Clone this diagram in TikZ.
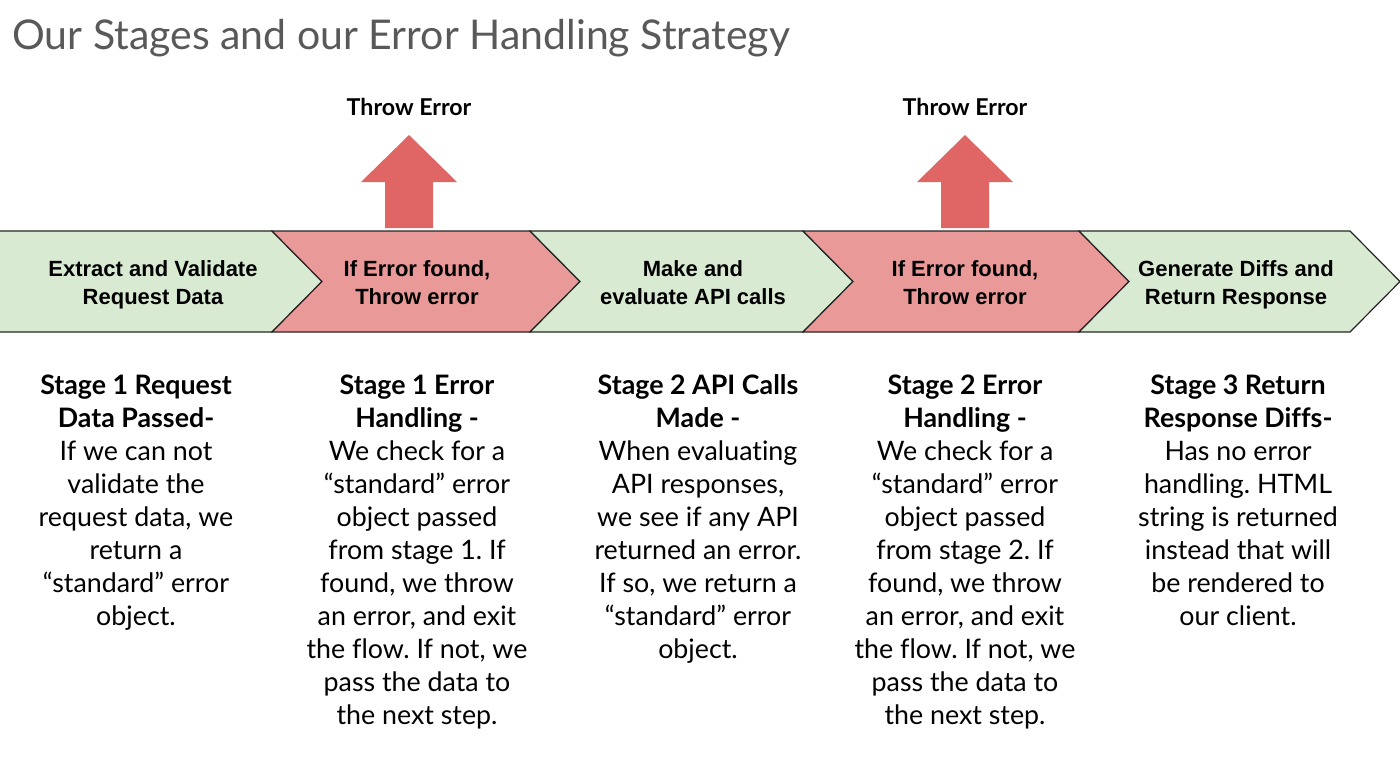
\documentclass[tikz,border=0pt]{standalone}
\usepackage{fontspec}
\setmainfont{Lato}[Ligatures=NoCommon]
\newfontfamily\chevfont{Liberation Sans}
\usetikzlibrary{positioning}
\frenchspacing

\definecolor{stageGreen}{HTML}{D9EAD3}
\definecolor{errorPink}{HTML}{EA9999}
\definecolor{throwRed}{HTML}{E06666}
\definecolor{titleGray}{HTML}{595959}

\tikzset{
  chevron/.style={draw=black!85,line width=0.6pt,line join=miter},
  chevlabel/.style={align=center,inner sep=0pt,
    font=\chevfont\bfseries\fontsize{11}{14}\selectfont},
  stagetext/.style={anchor=north,align=center,inner sep=0pt,
    font=\fontsize{13.4}{16.5}\selectfont},
  throwlabel/.style={inner sep=0pt,font=\bfseries\fontsize{11.6}{13}\selectfont},
}

\begin{document}
\begin{tikzpicture}[x=0.5pt,y=-0.5pt]
  \useasboundingbox (0,0) rectangle (1400,762);

  \node (title) [anchor=base west,inner sep=0pt,text=titleGray,
    font=\fontsize{20.5}{24}\selectfont] at (12,49)
    {Our Stages and our Error Handling Strategy};

  \filldraw[chevron,fill=stageGreen] (-2,231) -- (272,231) -- (322,281.5)
    -- (272,332) -- (-2,332) -- cycle;
  \foreach \l/\r/\c in {272/530/errorPink,530/803/stageGreen,
      803/1079/errorPink,1079/1350/stageGreen}
    \filldraw[chevron,fill=\c] (\l,231) -- (\r,231) -- ({\r+50},281.5)
      -- (\r,332) -- (\l,332) -- ({\l+50},281.5) -- cycle;

  \foreach \x/\n in {409/1,965/2} {
    \fill[throwRed] (\x,135) -- ({\x+48},182) -- ({\x+24},182) -- ({\x+24},228)
      -- ({\x-24},228) -- ({\x-24},182) -- ({\x-48},182) -- cycle;
    \node (throw\n) [throwlabel] at (\x,107) {Throw Error};
  }

  \node (c1) [chevlabel] at (153,285) {Extract and Validate\\Request Data};
  \node (c2) [chevlabel] at (417,283) {If Error found,\\Throw error};
  \node (c3) [chevlabel] at (693,283) {Make and\\evaluate API calls};
  \node (c4) [chevlabel] at (965,283) {If Error found,\\Throw error};
  \node (c5) [chevlabel] at (1236,285) {Generate Diffs and\\Return Response};

  \node (s1) [stagetext] at (136,374) {\textbf{Stage 1 Request}\\\textbf{Data Passed-}\\
    If we can not\\validate the\\request data, we\\return a\\``standard'' error\\object.};
  \node (s2) [stagetext] at (417,374) {\textbf{Stage 1 Error}\\\textbf{Handling -}\\
    We check for a\\``standard'' error\\object passed\\from stage 1. If\\found, we throw\\
    an error, and exit\\the flow. If not, we\\pass the data to\\the next step.};
  \node (s3) [stagetext] at (698,374) {\textbf{Stage 2 API Calls}\\\textbf{Made -}\\
    When evaluating\\API responses,\\we see if any API\\returned an error.\\
    If so, we return a\\``standard'' error\\object.};
  \node (s4) [stagetext] at (965,374) {\textbf{Stage 2 Error}\\\textbf{Handling -}\\
    We check for a\\``standard'' error\\object passed\\from stage 2. If\\found, we throw\\
    an error, and exit\\the flow. If not, we\\pass the data to\\the next step.};
  \node (s5) [stagetext] at (1238,374) {\textbf{Stage 3 Return}\\\textbf{Response Diffs-}\\
    Has no error\\handling. HTML\\string is returned\\instead that will\\
    be rendered to\\our client.};
\end{tikzpicture}
\end{document}
